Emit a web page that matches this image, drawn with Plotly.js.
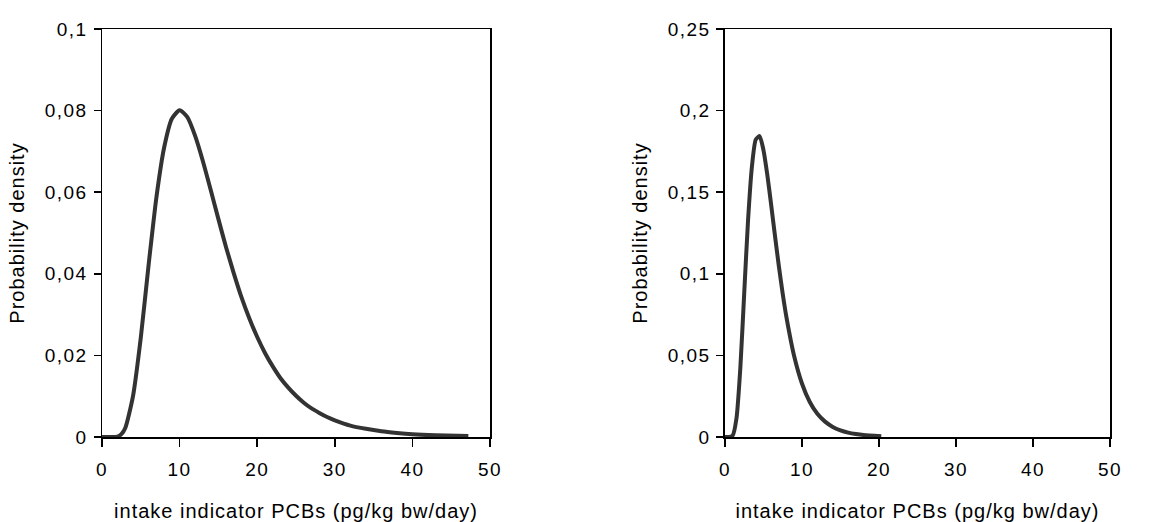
<!DOCTYPE html>
<html>
<head>
<meta charset="utf-8">
<script src="https://cdn.plot.ly/plotly-3.0.1.min.js"></script>
<style>
html,body{margin:0;padding:0;background:#fff;}
#chart{width:1165px;height:522px;}
#chart .xtick text, #chart .x2tick text, #chart .ytick text, #chart .y2tick text{letter-spacing:1.5px;}
#chart .xtitle, #chart .x2title, #chart .ytitle, #chart .y2title{letter-spacing:1px;}
</style>
</head>
<body>
<div id="chart"></div>
<script>
// Left panel: probability density of intake
const leftX = [0, 1, 2, 2.5, 3, 4, 5, 6, 7, 8, 9, 10, 11, 12, 13, 14, 15, 16, 17, 18, 19, 20,
  21, 22, 23, 24, 25, 26, 27, 28, 29, 30, 32, 34, 36, 38, 40, 43, 47.2];
const leftY = [0, 0, 0.0001, 0.0007, 0.0022, 0.0101, 0.0244, 0.0421, 0.0586, 0.0709, 0.0780, 0.0801,
  0.0784, 0.0738, 0.0676, 0.0606, 0.0534, 0.0464, 0.0400, 0.0341, 0.0290, 0.0245,
  0.0206, 0.0173, 0.0144, 0.0121, 0.0101, 0.0084, 0.0070, 0.0059, 0.0049, 0.0041,
  0.0028, 0.0020, 0.0014, 0.0010, 0.0007, 0.00045, 0.00025];

// Right panel
const rightX = [0, 0.5, 1, 1.5, 2, 2.5, 3, 3.5, 4, 4.5, 5, 5.5, 6, 6.5, 7, 7.5, 8, 9, 10,
  11, 12, 13, 14, 15, 16, 17, 18, 20.3];
const rightY = [0, 0, 0.0009, 0.0115, 0.0424, 0.0879, 0.1327, 0.1655, 0.1822, 0.1844, 0.1758,
  0.1607, 0.1423, 0.1231, 0.1047, 0.0878, 0.0730, 0.0493, 0.0328,
  0.0216, 0.0142, 0.0094, 0.0062, 0.0041, 0.0027, 0.0018, 0.0012, 0.0005];

const leftYTicks = [0, 0.02, 0.04, 0.06, 0.08, 0.1];
const leftYLabels = ['0', '0,02', '0,04', '0,06', '0,08', '0,1'];
const rightYTicks = [0, 0.05, 0.1, 0.15, 0.2, 0.25];
const rightYLabels = ['0', '0,05', '0,1', '0,15', '0,2', '0,25'];
const xTicks = [0, 10, 20, 30, 40, 50];
const xLabels = ['0', '10', '20', '30', '40', '50'];

const xTitle = 'intake indicator PCBs (pg/kg bw/day)';
const yTitle = 'Probability density';

const fam = 'Liberation Sans, Arial, sans-serif';
const tickFont = {family: fam, size: 19, color: '#000'};
const titleFont = {family: fam, size: 20, color: '#000'};
const lineStyle = {color: '#333333', width: 4, shape: 'spline', smoothing: 0.6};

const traces = [
  {x: leftX, y: leftY, type: 'scatter', mode: 'lines', line: lineStyle, xaxis: 'x', yaxis: 'y', hoverinfo: 'skip'},
  {x: rightX, y: rightY, type: 'scatter', mode: 'lines', line: lineStyle, xaxis: 'x2', yaxis: 'y2', hoverinfo: 'skip'}
];

function xAxis(domain, anchor) {
  return {
    domain: domain, anchor: anchor, range: [0, 50], tickvals: xTicks, ticktext: xLabels,
    ticks: 'outside', ticklen: 8, tickwidth: 1.5, tickcolor: '#000',
    showline: true, linecolor: '#000', linewidth: 1.5, mirror: true,
    showgrid: false, zeroline: false, ticklabelstandoff: 7,
    tickfont: tickFont, title: {text: xTitle, font: titleFont, standoff: 26}
  };
}
function yAxis(range, vals, labels, anchor) {
  return {
    domain: [0, 1], anchor: anchor, range: range, tickvals: vals, ticktext: labels,
    ticks: 'outside', ticklen: 7, tickwidth: 1.5, tickcolor: '#000',
    showline: true, linecolor: '#000', linewidth: 1.5, mirror: true,
    showgrid: false, zeroline: false, ticklabelstandoff: 2,
    tickfont: tickFont, title: {text: yTitle, font: titleFont, standoff: 20}
  };
}

const layout = {
  width: 1165, height: 522,
  margin: {l: 102, r: 55, t: 29, b: 85},
  paper_bgcolor: '#fff', plot_bgcolor: '#fff',
  showlegend: false, font: tickFont,
  xaxis: xAxis([0, 0.385], 'y'),
  yaxis: yAxis([0, 0.1], leftYTicks, leftYLabels, 'x'),
  xaxis2: xAxis([0.618, 1], 'y2'),
  yaxis2: yAxis([0, 0.25], rightYTicks, rightYLabels, 'x2')
};

Plotly.newPlot('chart', traces, layout, {staticPlot: true, displayModeBar: false});
</script>
</body>
</html>
